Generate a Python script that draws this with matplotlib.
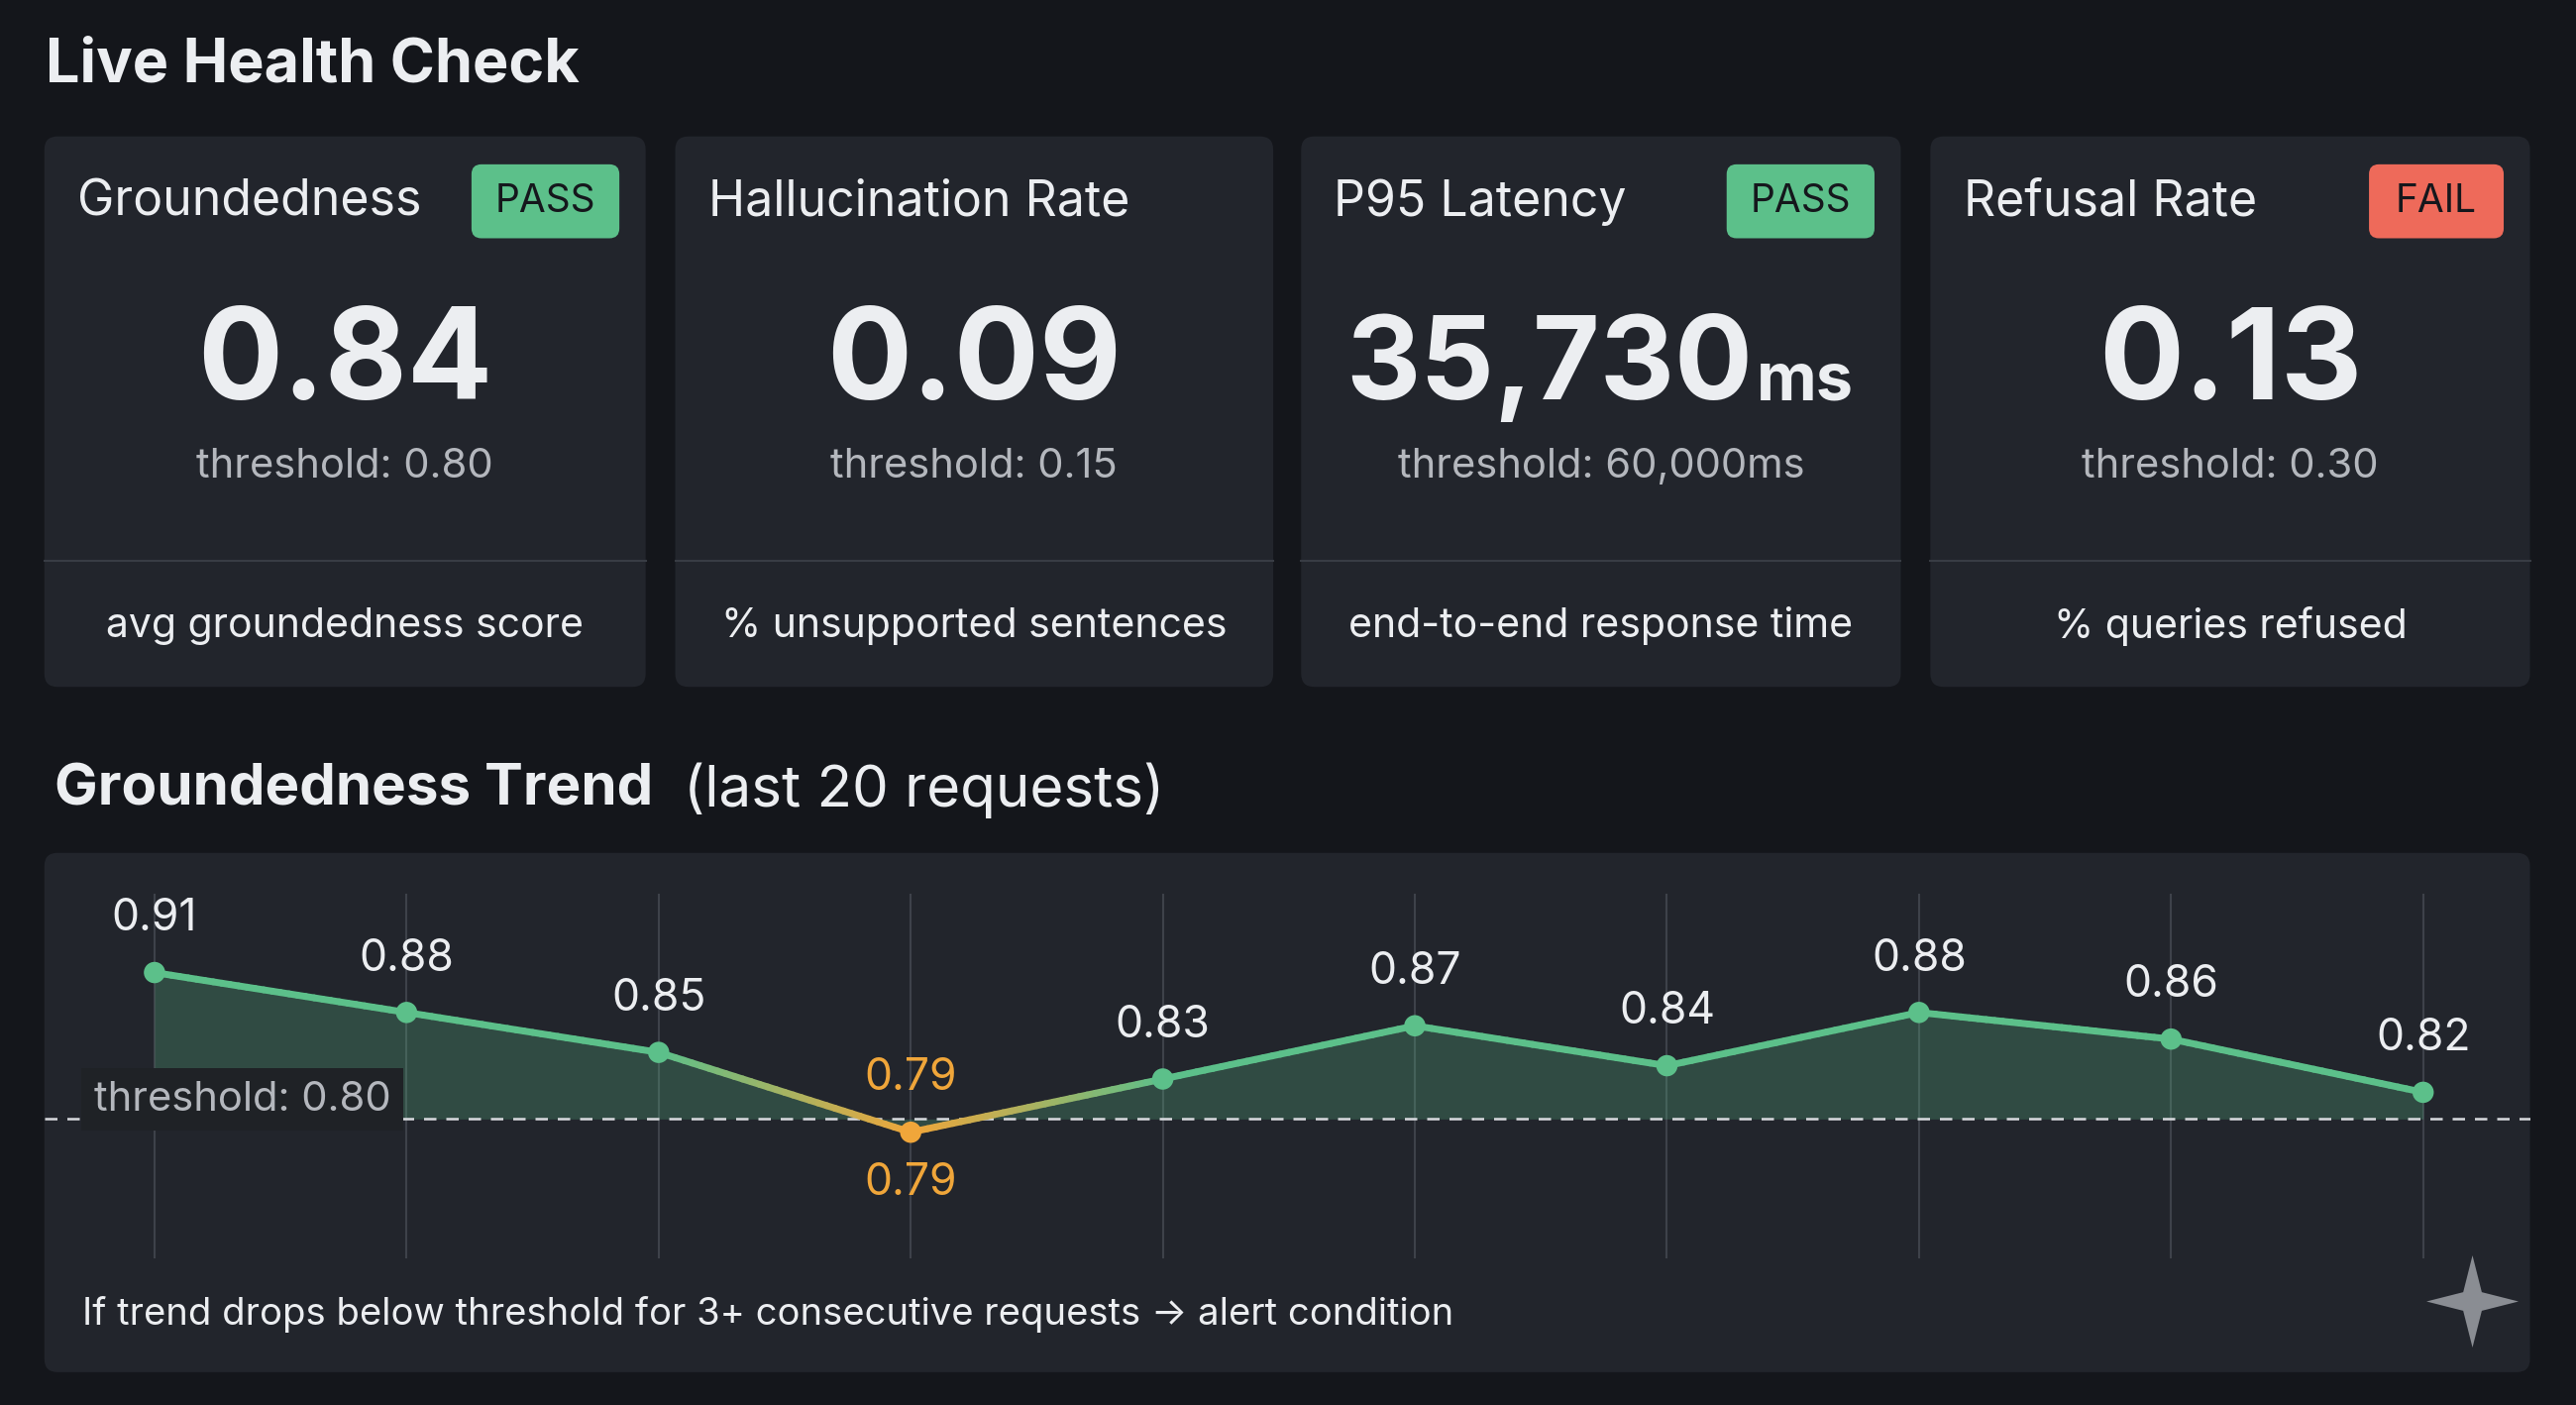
import numpy as np
import matplotlib
matplotlib.use("Agg")
from matplotlib import pyplot as plt
from matplotlib.patches import FancyBboxPatch, Polygon
from matplotlib.collections import LineCollection
from matplotlib.colors import to_rgb

plt.rcParams['font.family'] = ['Inter', 'DejaVu Sans']

# card data
card_titles = ['Groundedness', 'Hallucination Rate', 'P95 Latency', 'Refusal Rate']
card_values = ['0.84', '0.09', '35,730', '0.13']
card_units = ['', '', 'ms', '']
card_thresholds = ['threshold: 0.80', 'threshold: 0.15', 'threshold: 60,000ms', 'threshold: 0.30']
card_badges = ['PASS', None, 'PASS', 'FAIL']
card_footers = ['avg groundedness score', '% unsupported sentences',
                'end-to-end response time', '% queries refused']

# trend data
trend_idx = list(range(10))
trend_vals = [0.91, 0.88, 0.85, 0.79, 0.83, 0.87, 0.84, 0.88, 0.86, 0.82]
threshold = 0.80

BG = '#14161b'
CARD = '#22252c'
GREEN = '#5cc08a'
ORANGE = '#f0a63a'
RED = '#ee6a5a'
GREY = '#b4b7bd'
WHITE = '#eceef1'

W, H = 1568, 855
fig = plt.figure(figsize=(26, 14.18), dpi=100, facecolor=BG)
lay = fig.add_axes([0, 0, 1, 1])
lay.set_xlim(0, W)
lay.set_ylim(H, 0)
lay.axis('off')


def box(x0, y0, x1, y1, color, r=8, z=1):
    lay.add_patch(FancyBboxPatch((x0, y0), x1 - x0, y1 - y0,
                                 boxstyle='round,pad=0,rounding_size=%d' % r,
                                 fc=color, ec='none', zorder=z))


lay.text(28, 40, 'Live Health Check', color=WHITE, fontsize=44, fontweight='bold', va='center')

card_x = [(27, 393), (411, 775), (792, 1157), (1175, 1540)]
for i, (x0, x1) in enumerate(card_x):
    box(x0, 83, x1, 418, CARD)
    lay.plot([x0, x1], [341, 341], color='#383c44', lw=1.5, zorder=2)
    lay.text(x0 + 20, 123, card_titles[i], color=WHITE, fontsize=36, va='center', zorder=3)
    cx = (x0 + x1) / 2
    if card_badges[i]:
        bw = 90 if card_badges[i] == 'PASS' else 82
        bc = GREEN if card_badges[i] == 'PASS' else RED
        box(x1 - 16 - bw, 100, x1 - 16, 145, bc, r=6, z=2)
        lay.text(x1 - 16 - bw / 2, 123, card_badges[i], color='#15171c', fontsize=28,
                 ha='center', va='center', zorder=3)
    if card_units[i]:
        lay.text(1067, 243, card_values[i], color=WHITE, fontsize=84, fontweight='bold',
                 ha='right', va='baseline', zorder=3)
        lay.text(1069, 243, card_units[i], color=WHITE, fontsize=48, fontweight='bold',
                 ha='left', va='baseline', zorder=3)
    else:
        lay.text(cx, 243, card_values[i], color=WHITE, fontsize=92, fontweight='bold',
                 ha='center', va='baseline', zorder=3)
    lay.text(cx, 284, card_thresholds[i], color=GREY, fontsize=30, ha='center', va='center', zorder=3)
    lay.text(cx, 381, card_footers[i], color=WHITE, fontsize=29.5, ha='center', va='center', zorder=3)

lay.text(33, 481, 'Groundedness Trend', color=WHITE, fontsize=42, fontweight='bold', va='center')
lay.text(416, 481, '(last 20 requests)', color=WHITE, fontsize=42, va='center')

box(27, 519, 1540, 835, CARD)
lay.text(50, 800, 'If trend drops below threshold for 3+ consecutive requests \u2192 alert condition',
         color=WHITE, fontsize=27.5, va='center', zorder=3)

# sparkle icon
sx, sy, R, r = 1505, 792, 28, 8
pts = []
for k in range(8):
    a = np.pi / 2 - k * np.pi / 4
    rr = R if k % 2 == 0 else r
    pts.append((sx + rr * np.cos(a), sy - rr * np.sin(a)))
lay.add_patch(Polygon(pts, closed=True, fc='#8a8d93', ec='none', zorder=3))

# trend axes positioned in reference pixel space
ax_l, ax_r, ax_t, ax_b = 27, 1540, 540, 770
ax = fig.add_axes([ax_l / W, 1 - ax_b / H, (ax_r - ax_l) / W, (ax_b - ax_t) / H])
ax.patch.set_alpha(0)
for s in ax.spines.values():
    s.set_visible(False)
ax.set_xticks([])
ax.set_yticks([])
ax.set_xlim(-0.437, 9.424)
ax.set_ylim(0.690, 0.974)

for x in trend_idx:
    ax.axvline(x, ymin=0.02, ymax=0.98, color='#3e424a', lw=1.5, zorder=1)

xs = np.array(trend_idx, dtype=float)
ys = np.array(trend_vals)
ax.fill_between(xs, ys, threshold, color=GREEN, alpha=0.25, lw=0, zorder=2,
                interpolate=True)
ax.axhline(threshold, color='#d8dade', lw=1.8, ls=(0, (5, 4)), zorder=3)

# colored line: orange around the dip, gradient on neighbouring segments
g, o = np.array(to_rgb(GREEN)), np.array(to_rgb(ORANGE))
segs, cols = [], []
for i in range(len(xs) - 1):
    for t in np.linspace(0, 1, 30, endpoint=False):
        t2 = t + 1 / 30
        p0 = (xs[i] + t * (xs[i + 1] - xs[i]), ys[i] + t * (ys[i + 1] - ys[i]))
        p1 = (xs[i] + t2 * (xs[i + 1] - xs[i]), ys[i] + t2 * (ys[i + 1] - ys[i]))
        segs.append([p0, p1])
        if i == 2:
            f = t
        elif i == 3:
            f = 1 - t
        else:
            f = 0
        cols.append(g * (1 - f) + o * f)
ax.add_collection(LineCollection(segs, colors=cols, lw=5, zorder=4, capstyle='round'))

pcols = [ORANGE if v < threshold else GREEN for v in trend_vals]
ax.scatter(xs, ys, s=240, c=pcols, zorder=5, edgecolors='none')
for x, v, c in zip(xs, ys, pcols):
    ax.annotate('%.2f' % v, (x, v), xytext=(0, 24), textcoords='offset points',
                ha='center', va='bottom', color=c if c == ORANGE else WHITE,
                fontsize=32, zorder=6)
    if v < threshold:
        ax.annotate('%.2f' % v, (x, v), xytext=(0, -22), textcoords='offset points',
                    ha='center', va='top', color=ORANGE, fontsize=32, zorder=6)

ax.text(-0.24, 0.8145, 'threshold: 0.80', color=GREY, fontsize=30, va='center', zorder=6,
        bbox=dict(boxstyle='square,pad=0.3', fc='#1f2226', ec='none'))

fig.savefig('out.png', dpi=100, facecolor=BG)
